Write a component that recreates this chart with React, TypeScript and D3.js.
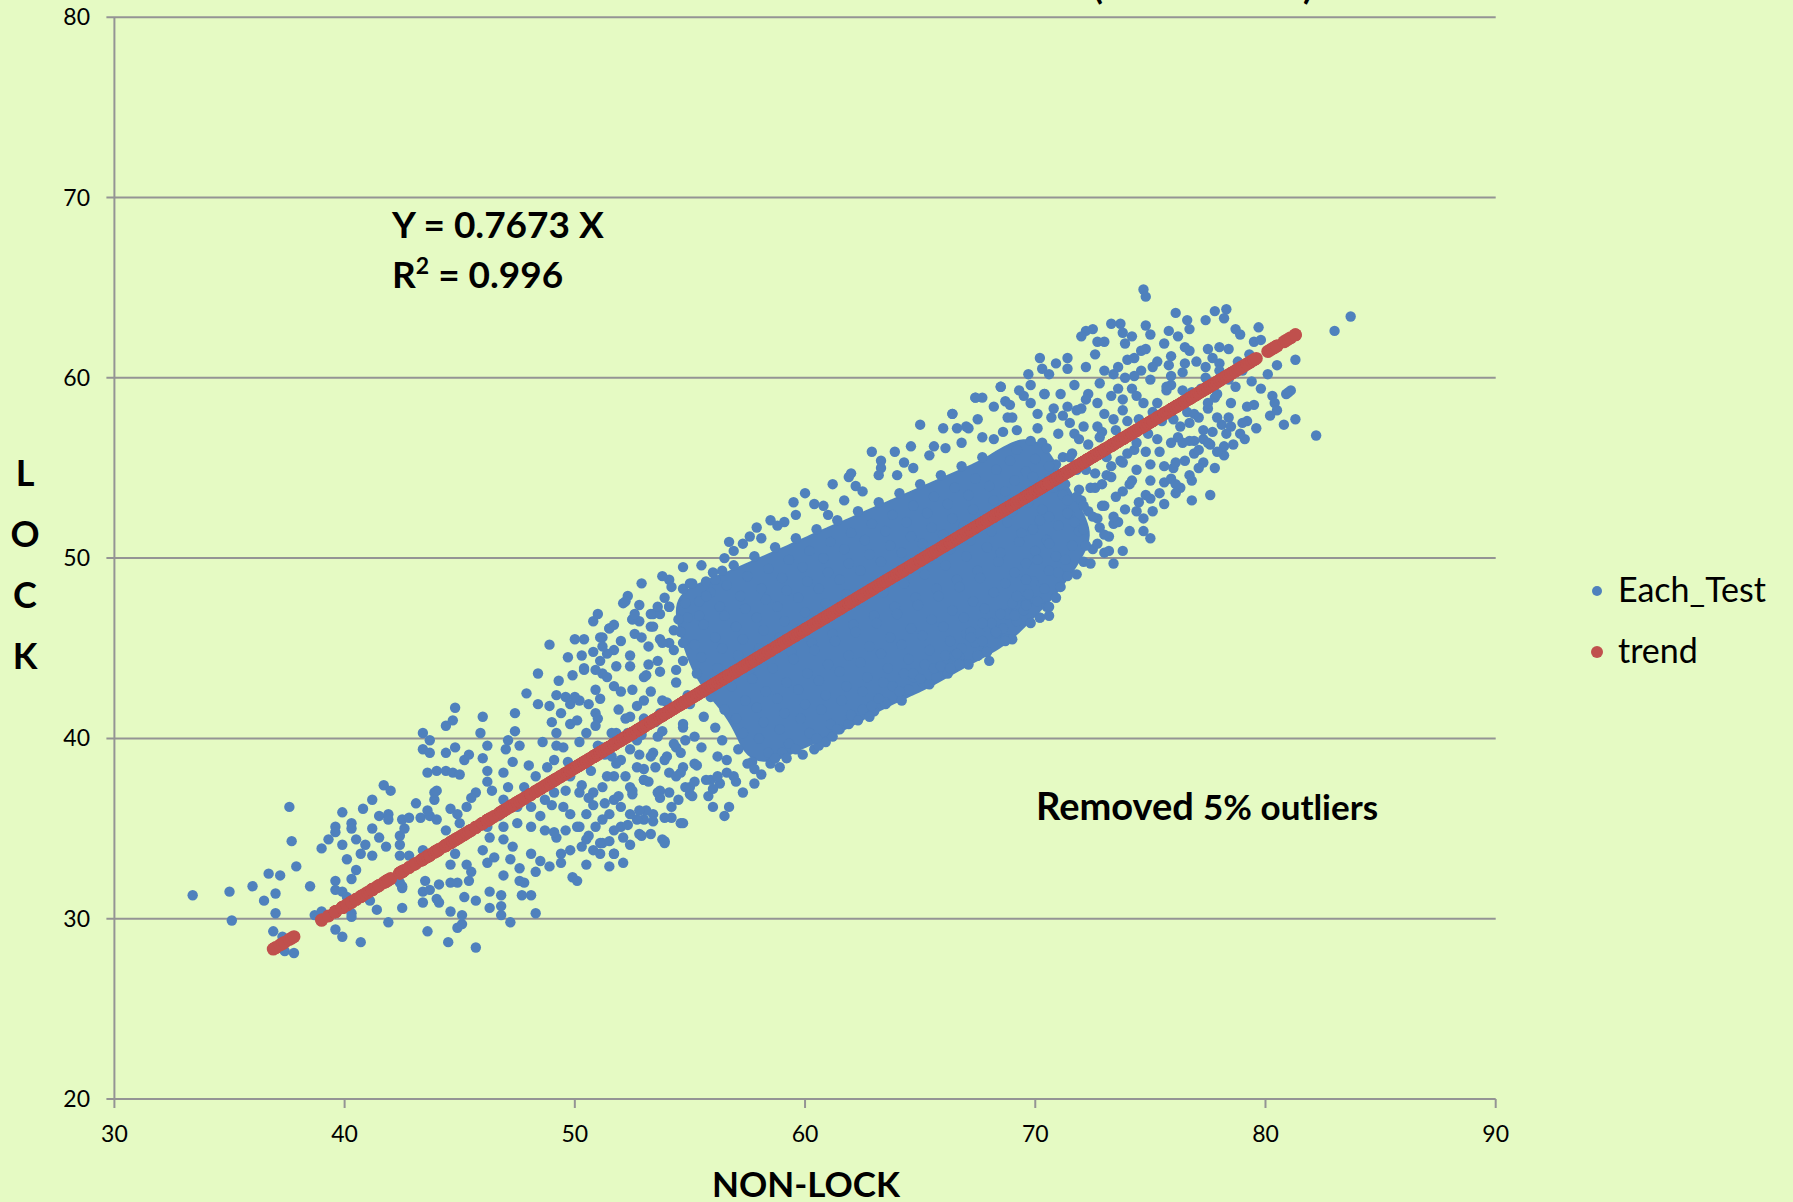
import React from 'react'
import * as d3 from 'd3'

// canvas + plot box (pixels)
const W = 1793
const H = 1202
const plot = { left: 114.4, right: 1495.7, top: 17.2, bottom: 1099 }

const xTicks = [30, 40, 50, 60, 70, 80, 90]
const yTicks = [20, 30, 40, 50, 60, 70, 80]
const yTitle = ['L', 'O', 'C', 'K']

// regression shown on the chart
const SLOPE = 0.7673
const R2 = '0.996'
// x spans of the tests kept for the trend (5% outliers removed)
const trendKept = [
  [36.9, 37.8],
  [39.0, 79.6],
  [80.0, 81.3],
]
// middle of the cloud where dots pile into a solid mass (x centre, half length in x units)
const packedMid = 63.5
const packedHalf = 8

// Each_Test: lower tail (x < 50)
const lowTail: [number, number][] = [
  [33.4, 31.3], [35.0, 31.5], [35.1, 29.9], [36.0, 31.8], [36.7, 32.5], [37.2, 32.4], [37.0, 31.4],
  [36.5, 31.0], [37.0, 30.3], [36.9, 29.3], [37.3, 29.0], [37.4, 28.2], [37.8, 28.1], [37.6, 36.2],
  [37.7, 34.3], [37.9, 32.9], [38.5, 31.8], [38.7, 30.2], [39.0, 30.4], [39.6, 29.4], [39.9, 29.0],
  [40.7, 28.7], [39.0, 33.9], [39.3, 34.4], [39.6, 35.1], [39.6, 34.8], [39.9, 35.9], [40.3, 35.3],
  [40.3, 35.0], [39.9, 34.1], [40.1, 33.3], [40.5, 32.7], [40.3, 32.2], [39.6, 32.1], [39.6, 31.6],
  [39.9, 31.5], [40.1, 31.2], [40.3, 30.3], [40.3, 30.1], [41.1, 31.0], [41.4, 30.5], [41.9, 29.8],
  [42.5, 30.6], [43.6, 29.3], [44.5, 28.7], [45.7, 28.4], [44.9, 29.5], [45.1, 29.7], [45.1, 30.2],
  [45.7, 31.0], [46.3, 30.6], [46.8, 30.7], [46.8, 30.2], [47.2, 29.8], [48.3, 30.3], [48.1, 31.3],
  [47.7, 31.3], [47.8, 32.0], [47.6, 32.1], [46.3, 31.5], [46.8, 31.3], [45.2, 31.2], [44.6, 30.4],
  [44.1, 30.9], [44.0, 31.1], [43.4, 30.9], [43.4, 31.5], [43.7, 31.6], [43.5, 32.1], [44.1, 31.9],
  [44.6, 32.0], [44.9, 32.0], [45.4, 32.1], [45.5, 32.6], [45.3, 33.0], [44.6, 33.0], [44.8, 33.6],
  [42.5, 31.7], [42.4, 32.0], [42.4, 33.5], [42.8, 33.5], [42.4, 34.1], [42.4, 34.6], [42.6, 35.0],
  [42.5, 35.5], [42.8, 35.6], [43.3, 35.6], [43.7, 35.7], [44.0, 35.5], [43.6, 36.0], [43.9, 36.6],
  [43.9, 37.0], [44.0, 37.1], [43.6, 38.1], [44.0, 38.2], [44.4, 38.2], [44.7, 38.1], [45.0, 38.0],
  [43.4, 40.3], [43.7, 39.9], [43.4, 39.4], [43.7, 39.2], [44.4, 39.2], [44.8, 39.5], [44.4, 40.7],
  [44.7, 41.0], [44.8, 41.7], [45.2, 38.8], [45.4, 39.1], [46.0, 41.2], [45.9, 40.3], [46.2, 39.6],
  [46.0, 38.9], [46.2, 38.2], [46.2, 37.6], [46.4, 37.1], [45.7, 37.0], [45.5, 36.7], [45.3, 36.2],
  [44.6, 36.1], [44.9, 35.8], [45.0, 35.3], [44.4, 34.9], [44.7, 34.4], [44.3, 34.0], [43.4, 33.8],
  [41.7, 37.4], [42.0, 37.1], [41.2, 36.6], [40.8, 36.1], [41.5, 35.7], [41.9, 35.8], [41.9, 35.5],
  [41.2, 35.0], [41.5, 34.5], [41.8, 34.0], [40.5, 34.4], [40.9, 34.1], [40.7, 33.6], [41.2, 33.5],
  [47.4, 41.4], [47.4, 40.4], [47.1, 39.9], [47.6, 39.6], [47.0, 39.4], [47.3, 38.7], [46.9, 38.1],
  [47.1, 37.3], [46.9, 36.6], [46.7, 35.7], [46.9, 35.1], [47.5, 35.3], [46.2, 35.1], [46.3, 34.5],
  [46.0, 33.8], [46.2, 33.1], [46.5, 33.4], [46.9, 34.4], [47.3, 34.0], [47.2, 33.3], [47.6, 32.8],
  [46.9, 32.4], [48.1, 33.6], [48.5, 33.2], [48.9, 32.9], [49.4, 33.1], [48.3, 32.6], [48.1, 35.1],
  [48.5, 35.7], [48.1, 36.2], [48.7, 36.6], [48.4, 41.9], [48.9, 41.8], [49.6, 42.3], [49.8, 41.9],
  [49.4, 41.4], [49.8, 40.8], [49.2, 40.3], [48.9, 45.2], [49.7, 44.5], [41.0, 31.4], [41.2, 31.6],
  [42.5, 31.8], [41.8, 32.0], [49.1, 38.8], [49.5, 39.5], [48.8, 38.4], [49.8, 37.9], [49.8, 35.8],
  [49.1, 37.0], [49.5, 36.2], [49.2, 34.5], [49.8, 33.8], [49.4, 33.6], [49.9, 32.3], [43.0, 33.0],
  [43.1, 36.4],
]

// Each_Test: upper edge of the lower tail, x 50 to 55
const midTail: [number, number][] = [
  [50.4, 45.5], [50.8, 46.5], [51.5, 46.1], [51.2, 45.6], [51.7, 44.9], [51.1, 44.3], [50.4, 43.8],
  [51.2, 43.6], [52.1, 47.5], [52.3, 47.9], [52.5, 46.6], [52.8, 46.5], [53.4, 46.9], [53.7, 46.9],
  [54.1, 47.3], [54.1, 48.8], [54.7, 49.5], [54.7, 48.3], [50.2, 37.0], [50.5, 35.8], [50.9, 35.1],
  [51.2, 34.2], [51.7, 33.6], [52.1, 33.1], [51.5, 32.9], [50.1, 32.1], [50.5, 33.0], [50.5, 34.4],
  [50.8, 37.0], [51.2, 37.3], [51.7, 36.6], [52.4, 35.8], [53.0, 35.5], [52.8, 34.7], [53.8, 34.4],
  [53.9, 34.2], [54.6, 35.3], [53.6, 37.0], [54.1, 38.1], [54.4, 39.5], [53.4, 39.2], [52.7, 38.4],
  [52.0, 38.8], [51.2, 39.5], [50.5, 40.3], [50.9, 41.4], [50.2, 42.1], [50.9, 42.7], [51.7, 42.9],
  [52.4, 44.0], [53.0, 43.4], [53.6, 44.3], [54.1, 45.3], [54.7, 45.3], [53.3, 46.2], [53.7, 45.5],
  [54.4, 43.8], [54.9, 42.1], [54.7, 40.6], [53.7, 41.4], [53.0, 42.1], [52.4, 41.2], [51.8, 40.3],
  [52.7, 39.9], [53.8, 42.1], [53.0, 37.7], [52.4, 37.3], [51.7, 37.9], [50.2, 35.1], [51.1, 33.6],
  [52.0, 35.1], [53.4, 35.8], [54.1, 37.0], [55.0, 37.3], [54.7, 38.4],
]

// Each_Test: band edges read for x 51 to 71
const bandEdges: [number, number][] = [
  [51.1, 45.6], [51.5, 46.1], [52.2, 47.6], [52.5, 46.6], [53.3, 46.9], [54.1, 47.3], [55.0, 48.6],
  [55.7, 48.7], [56.1, 48.8], [56.5, 50.0], [56.7, 50.9], [57.3, 50.8], [57.6, 51.2], [58.1, 51.1],
  [58.5, 52.1], [59.1, 52.0], [59.5, 53.1], [60.0, 53.6], [60.8, 52.9], [61.2, 54.1], [61.9, 54.5],
  [62.0, 54.7], [62.2, 54.0], [62.9, 55.9], [63.3, 55.4], [63.3, 55.0], [64.0, 54.6], [64.3, 55.3],
  [64.6, 56.2], [65.0, 57.4], [65.6, 56.2], [66.0, 57.2], [66.4, 58.0], [66.6, 57.2], [67.1, 57.2],
  [67.4, 58.9], [68.5, 59.5], [69.5, 59.0], [69.8, 59.6], [70.4, 59.1], [68.7, 58.7], [69.0, 57.8],
  [67.7, 56.7], [51.1, 34.2], [51.7, 33.6], [52.4, 34.1], [52.9, 34.6], [53.9, 34.3], [54.7, 35.3],
  [54.2, 35.6], [55.0, 36.9], [56.0, 36.2], [56.5, 35.7], [56.7, 36.2], [57.3, 37.0], [57.8, 37.5],
  [58.1, 38.0], [58.9, 38.4], [59.0, 39.2], [59.4, 39.5], [60.4, 39.4], [60.9, 39.8], [61.5, 40.5],
  [62.5, 41.6], [63.0, 41.5], [63.5, 42.0], [64.2, 42.1], [64.7, 43.4], [65.1, 43.1], [65.7, 43.4],
  [66.4, 44.0], [66.7, 44.5], [67.5, 44.6], [67.9, 44.8], [68.7, 45.5], [68.3, 45.9], [69.1, 46.9],
  [69.6, 47.5], [70.2, 46.7], [70.5, 47.3], [51.5, 35.8], [52.0, 36.2], [52.5, 36.9], [53.1, 36.0],
  [53.0, 37.7], [53.7, 37.1], [54.6, 38.1], [55.2, 38.6], [55.9, 37.7], [56.6, 38.8],
]

// Each_Test: packed fringe around the core
const fringe: [number, number][] = [
  [70.3, 56.4], [70.8, 58.3], [71.2, 57.9], [71.7, 59.6], [72.3, 59.1], [72.8, 59.7], [73.4, 60.2],
  [73.9, 60.0], [74.6, 60.4], [75.3, 60.9], [75.9, 61.2], [76.4, 60.3], [77.0, 60.9], [77.7, 61.1],
  [78.4, 61.6], [78.8, 60.9], [79.3, 61.3], [71.9, 53.8], [72.3, 52.6], [72.8, 51.7], [73.4, 51.9],
  [73.9, 52.7], [74.5, 53.1], [75.1, 52.6], [75.6, 53.0], [76.3, 53.9], [76.8, 54.3], [77.3, 55.3],
  [77.8, 55.0], [78.6, 56.3], [79.1, 56.6], [79.6, 57.2], [80.2, 57.9], [79.8, 59.4], [79.4, 59.8],
  [78.7, 59.5], [78.5, 58.6], [77.8, 58.9], [77.2, 59.4], [76.5, 58.8], [75.9, 59.6], [75.1, 58.1],
  [74.6, 57.3], [74.0, 57.6], [73.4, 57.7], [72.9, 57.0], [72.3, 56.3], [71.7, 56.9], [71.2, 55.6],
  [70.8, 53.9], [71.8, 53.4], [72.6, 54.7], [73.3, 55.1], [74.0, 55.8], [74.8, 55.9], [75.3, 56.6],
  [76.0, 57.7], [76.6, 58.1], [77.1, 57.8], [77.7, 57.0], [78.4, 59.9], [79.0, 60.4], [73.6, 59.4],
  [72.2, 58.8], [71.4, 58.4],
  [49.3, 43.2], [49.9, 43.5], [50.3, 44.6], [50.9, 43.8], [51.4, 44.7], [52.0, 45.4], [52.6, 45.8],
  [53.2, 45.1], [53.6, 47.3], [54.3, 46.0], [54.9, 46.7], [55.4, 47.6], [55.9, 48.1], [56.4, 49.3],
  [49.1, 34.8], [49.6, 34.9], [50.3, 34.0], [50.8, 33.8], [51.5, 34.3], [52.1, 34.5], [52.7, 35.5],
  [53.3, 34.7], [53.9, 35.6], [54.5, 36.6], [55.2, 37.6], [55.8, 36.8], [56.3, 37.5], [49.2, 39.6],
  [49.7, 38.7], [50.4, 38.6], [51.0, 39.6], [51.6, 39.0], [52.3, 40.3], [52.8, 39.1], [53.5, 38.4],
  [54.0, 39.0], [54.8, 39.9], [49.6, 37.1], [50.6, 36.7], [51.3, 36.4], [52.2, 37.9], [53.6, 40.1],
  [50.1, 41.0], [51.0, 41.1], [52.0, 42.6], [53.0, 41.1], [49.0, 40.9], [48.6, 39.8], [48.3, 37.9],
  [48.7, 34.9], [49.0, 36.3], [48.0, 38.5], [47.8, 37.3], [47.5, 36.2], [47.9, 42.5], [48.4, 43.6],
  [49.2, 42.4], [50.0, 45.5], [51.0, 46.9], [52.9, 48.6], [53.8, 49.0], [55.5, 49.6], [56.9, 50.4],
  [57.9, 51.7], [58.8, 51.8], [59.6, 52.4], [60.4, 53.0], [61.0, 52.4], [61.7, 53.2], [62.5, 53.7],
  [63.2, 54.6], [63.9, 55.9], [64.7, 55.0], [65.4, 55.7], [66.1, 56.1], [66.8, 56.4], [67.5, 57.7],
  [68.2, 56.6], [68.9, 58.5],
  [56.2, 37.9], [57.0, 37.6], [57.7, 38.7], [58.5, 38.6], [59.2, 38.9], [59.9, 39.1], [60.6, 39.6],
  [61.2, 40.1], [61.9, 40.8], [62.8, 41.2], [63.5, 41.9], [64.5, 42.7], [65.4, 43.0], [66.2, 43.6],
  [67.1, 44.1], [68.0, 44.3], [69.0, 45.5], [69.8, 46.4], [70.6, 46.8],
]

// Each_Test: dense core of the cloud
const core: [number, number][] = [
  [50.1, 35.1], [50.3, 37.4], [50.2, 39.8], [50.0, 42.3], [50.4, 43.9],
  [50.6, 34.6], [50.8, 36.3], [50.7, 38.2], [50.9, 40.7], [50.6, 41.9], [50.8, 44.8],
  [51.2, 35.5], [51.4, 37.9], [51.3, 39.1], [51.1, 42.2], [51.4, 43.4], [51.2, 45.1],
  [51.7, 34.9], [51.9, 36.8], [51.8, 38.6], [51.6, 40.3], [51.9, 41.6], [51.8, 44.0], [51.7, 46.3],
  [52.3, 35.2], [52.5, 37.1], [52.4, 39.4], [52.2, 41.1], [52.5, 42.7], [52.4, 44.6], [52.6, 46.9],
  [52.8, 36.0], [53.0, 38.3], [52.9, 40.2], [52.7, 41.8], [53.1, 43.5], [52.9, 45.6], [52.8, 47.4],
  [53.4, 35.4], [53.2, 37.6], [53.3, 39.0], [53.5, 40.9], [53.3, 42.6], [53.2, 44.1], [53.4, 46.2],
  [53.7, 36.7], [53.9, 38.8], [53.8, 40.4], [54.0, 42.0], [53.7, 43.7], [53.8, 45.3], [53.9, 47.8],
  [54.2, 36.2], [54.4, 37.9], [54.3, 39.7], [54.1, 41.5], [54.4, 43.1], [54.3, 44.9], [54.5, 46.6], [54.2, 48.4],
  [54.8, 37.3], [54.6, 39.2], [54.7, 40.8], [54.9, 42.4], [54.7, 44.3], [54.6, 45.9], [54.8, 47.5],
  [55.1, 36.8], [55.3, 38.5], [55.2, 40.1], [55.0, 41.9], [55.3, 43.6], [55.2, 45.2], [55.4, 46.8], [55.1, 48.6],
  [55.7, 37.7], [55.5, 39.5], [55.6, 41.2], [55.8, 42.8], [55.5, 44.5], [55.6, 46.3], [55.7, 47.9],
  [56.0, 37.2], [56.2, 39.0], [56.1, 40.6], [55.9, 42.3], [56.2, 43.9], [56.1, 45.6], [56.3, 47.3], [56.0, 49.2],
  [56.6, 38.1], [56.4, 39.9], [56.5, 41.6], [56.7, 43.4], [56.4, 45.0], [56.5, 46.8], [56.6, 48.5],
  [56.9, 37.9], [57.1, 39.4], [57.0, 41.1], [56.8, 42.9], [57.1, 44.6], [57.0, 46.2], [57.2, 47.9], [56.9, 49.6],
  [57.5, 38.6], [57.3, 40.3], [57.4, 42.1], [57.6, 43.8], [57.3, 45.5], [57.4, 47.2], [57.5, 49.0],
  [57.8, 38.3], [58.0, 40.0], [57.9, 41.7], [57.7, 43.3], [58.0, 45.0], [57.9, 46.7], [58.1, 48.3], [57.8, 50.1],
  [58.4, 39.2], [58.2, 40.9], [58.3, 42.6], [58.5, 44.3], [58.2, 46.0], [58.3, 47.7], [58.4, 49.4],
  [58.7, 38.9], [58.9, 40.5], [58.8, 42.2], [58.6, 43.9], [58.9, 45.6], [58.8, 47.3], [59.0, 48.9], [58.7, 50.6],
  [59.3, 39.7], [59.1, 41.4], [59.2, 43.1], [59.4, 44.8], [59.1, 46.5], [59.2, 48.2], [59.3, 49.9],
  [59.6, 39.4], [59.8, 41.1], [59.7, 42.7], [59.5, 44.4], [59.8, 46.1], [59.7, 47.8], [59.9, 49.5], [59.6, 51.1],
  [60.2, 40.3], [60.0, 41.9], [60.1, 43.6], [60.3, 45.3], [60.0, 47.0], [60.1, 48.7], [60.2, 50.4],
  [60.5, 40.0], [60.7, 41.6], [60.6, 43.2], [60.4, 44.9], [60.7, 46.6], [60.6, 48.3], [60.8, 50.0], [60.5, 51.6],
  [61.1, 40.8], [60.9, 42.4], [61.0, 44.1], [61.2, 45.8], [60.9, 47.5], [61.0, 49.2], [61.1, 50.9],
  [61.4, 40.5], [61.6, 42.1], [61.5, 43.7], [61.3, 45.4], [61.6, 47.1], [61.5, 48.8], [61.7, 50.5], [61.4, 52.1],
  [62.0, 41.3], [61.8, 42.9], [61.9, 44.6], [62.1, 46.3], [61.8, 48.0], [61.9, 49.7], [62.0, 51.4],
  [62.3, 41.0], [62.5, 42.6], [62.4, 44.2], [62.2, 45.9], [62.5, 47.6], [62.4, 49.3], [62.6, 51.0], [62.3, 52.6],
  [62.9, 41.8], [62.7, 43.4], [62.8, 45.1], [63.0, 46.8], [62.7, 48.5], [62.8, 50.2], [62.9, 51.9],
  [63.2, 42.2], [63.4, 43.1], [63.3, 44.7], [63.1, 46.4], [63.4, 48.1], [63.3, 49.8], [63.5, 51.5], [63.2, 53.1],
  [63.8, 42.9], [63.6, 43.9], [63.7, 45.6], [63.9, 47.3], [63.6, 49.0], [63.7, 50.7], [63.8, 52.4],
  [64.1, 42.6], [64.3, 43.6], [64.2, 45.2], [64.0, 46.9], [64.3, 48.6], [64.2, 50.3], [64.4, 52.0], [64.1, 53.6],
  [64.7, 43.6], [64.5, 44.4], [64.6, 46.1], [64.8, 47.8], [64.5, 49.5], [64.6, 51.2], [64.7, 52.9],
  [65.0, 43.3], [65.2, 44.1], [65.1, 45.7], [64.9, 47.4], [65.2, 49.1], [65.1, 50.8], [65.3, 52.5], [65.0, 54.1],
  [65.6, 43.9], [65.4, 44.9], [65.5, 46.6], [65.7, 48.3], [65.4, 50.0], [65.5, 51.7], [65.6, 53.4],
  [65.9, 44.0], [66.1, 44.6], [66.0, 46.2], [65.8, 47.9], [66.1, 49.6], [66.0, 51.3], [66.2, 53.0], [65.9, 54.6],
  [66.5, 44.6], [66.3, 45.4], [66.4, 47.1], [66.6, 48.8], [66.3, 50.5], [66.4, 52.2], [66.5, 53.9],
  [66.8, 45.0], [67.0, 45.8], [66.9, 46.7], [66.7, 48.4], [67.0, 50.1], [66.9, 51.8], [67.1, 53.5], [66.8, 55.1],
  [67.4, 45.3], [67.2, 45.9], [67.3, 47.6], [67.5, 49.3], [67.2, 51.0], [67.3, 52.7], [67.4, 54.4],
  [67.7, 45.4], [67.9, 46.2], [67.8, 47.2], [67.6, 48.9], [67.9, 50.6], [67.8, 52.3], [68.0, 54.0], [67.7, 55.6],
  [68.3, 45.8], [68.1, 46.4], [68.2, 48.1], [68.4, 49.8], [68.1, 51.5], [68.2, 53.2], [68.3, 54.9],
  [68.6, 46.1], [68.8, 46.9], [68.7, 48.6], [68.5, 50.3], [68.8, 52.0], [68.7, 53.7], [68.9, 55.4], [68.6, 57.0],
  [69.2, 46.5], [69.0, 47.5], [69.1, 49.2], [69.3, 50.9], [69.0, 52.6], [69.1, 54.3], [69.2, 56.0],
  [69.5, 47.1], [69.7, 48.0], [69.6, 49.7], [69.4, 51.4], [69.7, 53.1], [69.6, 54.8], [69.8, 56.5],
  [70.1, 47.6], [69.9, 48.7], [70.0, 50.4], [70.2, 52.1], [69.9, 53.8], [70.0, 55.5], [70.1, 57.2],
  [70.4, 48.3], [70.6, 49.3], [70.5, 51.0], [70.3, 52.7], [70.6, 54.4], [70.5, 56.1], [70.7, 57.8],
  [71.1, 48.4], [70.9, 50.1], [71.0, 51.8], [71.2, 53.5], [70.9, 55.2], [71.0, 56.9],
  [71.4, 49.0], [71.6, 50.7], [71.5, 52.4], [71.3, 54.1], [71.6, 55.8], [71.5, 57.5],
  [72.1, 49.8], [71.9, 51.5], [72.0, 53.2], [72.2, 54.9], [71.9, 56.6], [72.0, 58.3],
  [72.5, 50.5], [72.7, 52.2], [72.6, 53.9], [72.4, 55.6], [72.7, 57.3],
  [73.2, 51.2], [73.0, 52.9], [73.1, 54.6], [73.3, 56.3], [73.0, 58.0],
  [73.6, 52.0], [73.8, 53.7], [73.7, 55.4], [73.5, 57.1], [73.8, 58.8],
  [74.4, 52.6], [74.2, 54.3], [74.3, 56.0], [74.5, 57.7], [74.2, 59.4],
  [74.8, 53.5], [75.0, 55.2], [74.9, 56.9], [74.7, 58.6],
  [75.6, 54.2], [75.4, 55.9], [75.5, 57.6], [75.7, 59.3],
  [76.0, 55.0], [76.2, 56.7], [76.1, 58.4], [75.9, 60.1],
  [76.9, 55.8], [76.7, 57.5], [76.8, 59.2],
  [77.3, 56.6], [77.5, 58.3], [77.4, 60.0],
  [78.1, 57.4], [77.9, 59.1], [78.0, 60.8],
]

// Each_Test: upper tail (x > 66)
const highTail: [number, number][] = [
  [74.7, 64.9], [74.8, 64.5], [83.7, 63.4], [83.0, 62.6], [82.2, 56.8], [76.1, 63.6], [76.6, 63.2],
  [77.4, 63.2], [77.8, 63.7], [78.3, 63.8], [78.2, 63.3], [78.7, 62.7], [78.9, 62.4], [79.7, 62.8],
  [79.5, 62.0], [79.8, 62.1], [78.0, 61.7], [77.5, 61.6], [76.7, 61.5], [76.5, 61.7], [76.7, 62.7],
  [75.8, 62.6], [76.2, 62.3], [75.6, 61.9], [75.0, 62.4], [74.8, 62.9], [73.7, 63.0], [73.3, 63.0],
  [73.8, 62.5], [74.2, 62.3], [72.5, 62.7], [72.2, 62.6], [72.0, 62.3], [72.7, 62.0], [73.0, 62.0],
  [72.6, 61.3], [73.9, 61.9], [74.6, 61.5], [74.8, 61.6], [74.0, 61.0], [74.3, 61.1], [73.6, 60.6],
  [73.0, 60.4], [72.2, 60.6], [71.4, 61.1], [71.4, 60.5], [70.9, 60.8], [70.2, 61.1], [70.3, 60.5],
  [69.7, 60.2], [70.6, 60.2], [75.1, 60.6], [75.8, 60.7], [76.5, 60.8], [77.4, 60.6], [78.0, 60.4],
  [80.1, 60.2], [80.5, 60.7], [81.3, 61.0], [81.0, 59.2], [81.1, 59.3], [80.9, 59.1], [80.3, 59.0],
  [80.4, 58.6], [80.5, 58.2], [80.8, 57.4], [81.3, 57.7], [79.5, 58.5], [79.2, 58.4], [79.2, 57.6],
  [78.9, 56.9], [79.0, 57.5], [78.4, 57.8], [78.5, 57.3], [78.3, 56.9], [78.2, 55.7], [78.2, 56.2],
  [77.9, 55.9], [77.6, 56.3], [77.5, 56.4], [77.1, 56.0], [76.9, 56.5], [77.1, 55.0], [76.7, 54.6],
  [76.5, 55.4], [76.1, 55.3], [75.9, 54.4], [76.1, 54.1], [76.1, 53.6], [75.4, 53.6], [75.0, 53.3],
  [76.8, 53.2], [77.6, 53.5], [74.7, 52.2], [74.7, 51.5], [75.0, 51.1], [74.1, 51.5], [73.8, 50.4],
  [73.4, 49.7], [73.2, 50.4], [73.0, 51.3], [72.2, 50.7], [71.8, 49.1], [71.3, 49.9], [71.0, 49.2],
  [70.9, 47.8], [70.6, 47.3], [70.2, 46.7], [69.6, 47.4], [69.1, 46.8], [68.7, 45.4], [68.3, 45.9],
  [67.9, 44.8], [67.5, 44.6], [66.7, 44.1], [66.3, 43.9], [73.4, 52.3], [72.9, 52.9], [72.5, 52.3],
  [72.1, 52.9], [71.7, 52.0], [71.4, 52.5], [72.4, 53.9], [72.9, 54.1], [73.5, 53.4], [73.3, 54.5],
  [74.1, 54.1], [74.4, 54.9], [75.0, 54.3], [75.6, 55.1], [73.8, 55.3], [76.7, 56.5], [76.4, 56.4],
  [77.3, 57.1], [77.9, 57.8], [75.9, 56.4], [76.3, 57.3], [76.9, 58.0], [77.5, 58.6], [77.0, 59.0],
  [76.4, 59.3], [75.7, 59.5], [75.3, 58.6], [74.8, 57.5], [74.4, 56.4], [67.7, 58.9], [67.4, 58.9],
  [68.5, 59.5], [69.3, 59.3], [69.8, 58.6], [70.4, 59.1], [71.1, 59.1], [71.8, 58.2], [68.2, 58.4],
  [66.4, 58.0], [67.0, 57.3], [68.8, 57.8], [69.2, 57.1], [70.1, 58.0], [72.7, 58.6], [73.3, 59.0],
  [73.8, 58.2], [74.4, 59.0], [75.0, 59.9], [74.3, 60.1], [72.1, 57.3], [72.8, 56.7], [73.5, 56.4],
  [73.1, 55.6], [72.4, 55.6], [71.5, 55.6], [70.6, 55.1], [69.9, 54.5], [71.1, 54.1], [71.8, 54.9],
  [71.4, 53.2], [70.6, 52.3], [69.9, 51.6], [70.6, 50.8], [70.1, 49.9], [69.6, 48.8], [69.2, 47.9],
  [68.5, 46.9], [67.7, 46.4], [67.2, 45.6], [66.6, 44.7], [72.1, 51.6], [72.7, 50.8], [72.4, 49.7],
  [73.0, 50.3],
]

const eachTest: [number, number][] = [...lowTail, ...midTail, ...bandEdges, ...fringe, ...core, ...highTail]

const BLUE = '#4f81bd'
const RED = '#c0504d'
const GRID = '#949494'
const FONT = 'Lato, "Open Sans", sans-serif'

export default function App() {
  const x = d3.scaleLinear().domain([30, 90]).range([plot.left, plot.right])
  const y = d3.scaleLinear().domain([20, 80]).range([plot.bottom, plot.top])

  // fitted value for every kept test
  const trend = eachTest
    .filter(([tx]) => trendKept.some(([a, b]) => tx >= a && tx <= b))
    .map(([tx]) => [tx, SLOPE * tx] as [number, number])
    .sort((a, b) => a[0] - b[0])

  // middle of the cloud: dots overlap into one solid mass.
  // take the core tests whose position along the trend is near its middle
  const ux = x(packedMid + 1) - x(packedMid)
  const uy = y(SLOPE * (packedMid + 1)) - y(SLOPE * packedMid)
  const ulen = Math.hypot(ux, uy)
  const cx0 = x(packedMid)
  const cy0 = y(SLOPE * packedMid)
  const halfPx = packedHalf * ulen
  const packed = core.filter(([px, py]) => {
    const t = ((x(px) - cx0) * ux + (y(py) - cy0) * uy) / ulen
    return Math.abs(t) <= halfPx
  })
  const density = d3
    .contourDensity<[number, number]>()
    .x((d) => x(d[0]))
    .y((d) => y(d[1]))
    .size([W, H])
    .bandwidth(20)
    .contours(packed)
  const blob = density(density.max * 0.5)
  const geo = d3.geoPath()

  return (
    <svg width={W} height={H} style={{ position: 'absolute', left: 0, top: 0 }} fontFamily={FONT}>
      <rect width={W} height={H} fill="#e5fac3" />

      {/* title runs off the top, only bracket tails show */}
      <text x={1098} y={-1} fontSize={36} fontWeight="bold" textAnchor="middle">(</text>
      <text x={1308} y={-1} fontSize={36} fontWeight="bold" textAnchor="middle">)</text>

      {yTicks.map((t) => (
        <g key={`y${t}`}>
          <line x1={plot.left - 8} x2={plot.right} y1={y(t)} y2={y(t)} stroke={GRID} strokeWidth={2} />
          <text x={90} y={y(t)} dy="0.35em" textAnchor="end" fontSize={23}>{t}</text>
        </g>
      ))}
      <line x1={plot.left} x2={plot.left} y1={plot.top} y2={plot.bottom} stroke={GRID} strokeWidth={2} />
      {xTicks.map((t) => (
        <g key={`x${t}`}>
          <line x1={x(t)} x2={x(t)} y1={plot.bottom} y2={plot.bottom + 9} stroke={GRID} strokeWidth={2} />
          <text x={x(t)} y={1134} dy="0.35em" textAnchor="middle" fontSize={23}>{t}</text>
        </g>
      ))}

      <path d={geo(blob) ?? ''} fill={BLUE} />
      {eachTest.map(([tx, ty], i) => (
        <circle key={`p${i}`} cx={x(tx)} cy={y(ty)} r={5.2} fill={BLUE} />
      ))}
      {trend.map(([tx, ty], i) => (
        <circle key={`t${i}`} cx={x(tx)} cy={y(ty)} r={6.5} fill={RED} />
      ))}

      <text x={392} y={238} fontSize={37} fontWeight="bold">Y = {SLOPE} X</text>
      <text x={392} y={288} fontSize={37} fontWeight="bold">
        R<tspan fontSize={23} dy={-14}>2</tspan>
        <tspan dy={14}> = {R2}</tspan>
      </text>
      <text x={1036} y={820} fontWeight="bold">
        <tspan fontSize={38}>Removed </tspan>
        <tspan fontSize={35}>5% outliers</tspan>
      </text>

      {yTitle.map((c, i) => (
        <text key={c} x={25} y={473 + i * 61} dy="0.36em" textAnchor="middle" fontSize={36} fontWeight="bold">
          {c}
        </text>
      ))}
      <text x={806} y={1197} textAnchor="middle" fontSize={35} fontWeight="bold">NON-LOCK</text>

      <circle cx={1597} cy={591} r={5} fill={BLUE} />
      <text x={1618} y={602} fontSize={34}>Each_Test</text>
      <circle cx={1597} cy={652} r={6} fill={RED} />
      <text x={1618} y={663} fontSize={34}>trend</text>
    </svg>
  )
}
